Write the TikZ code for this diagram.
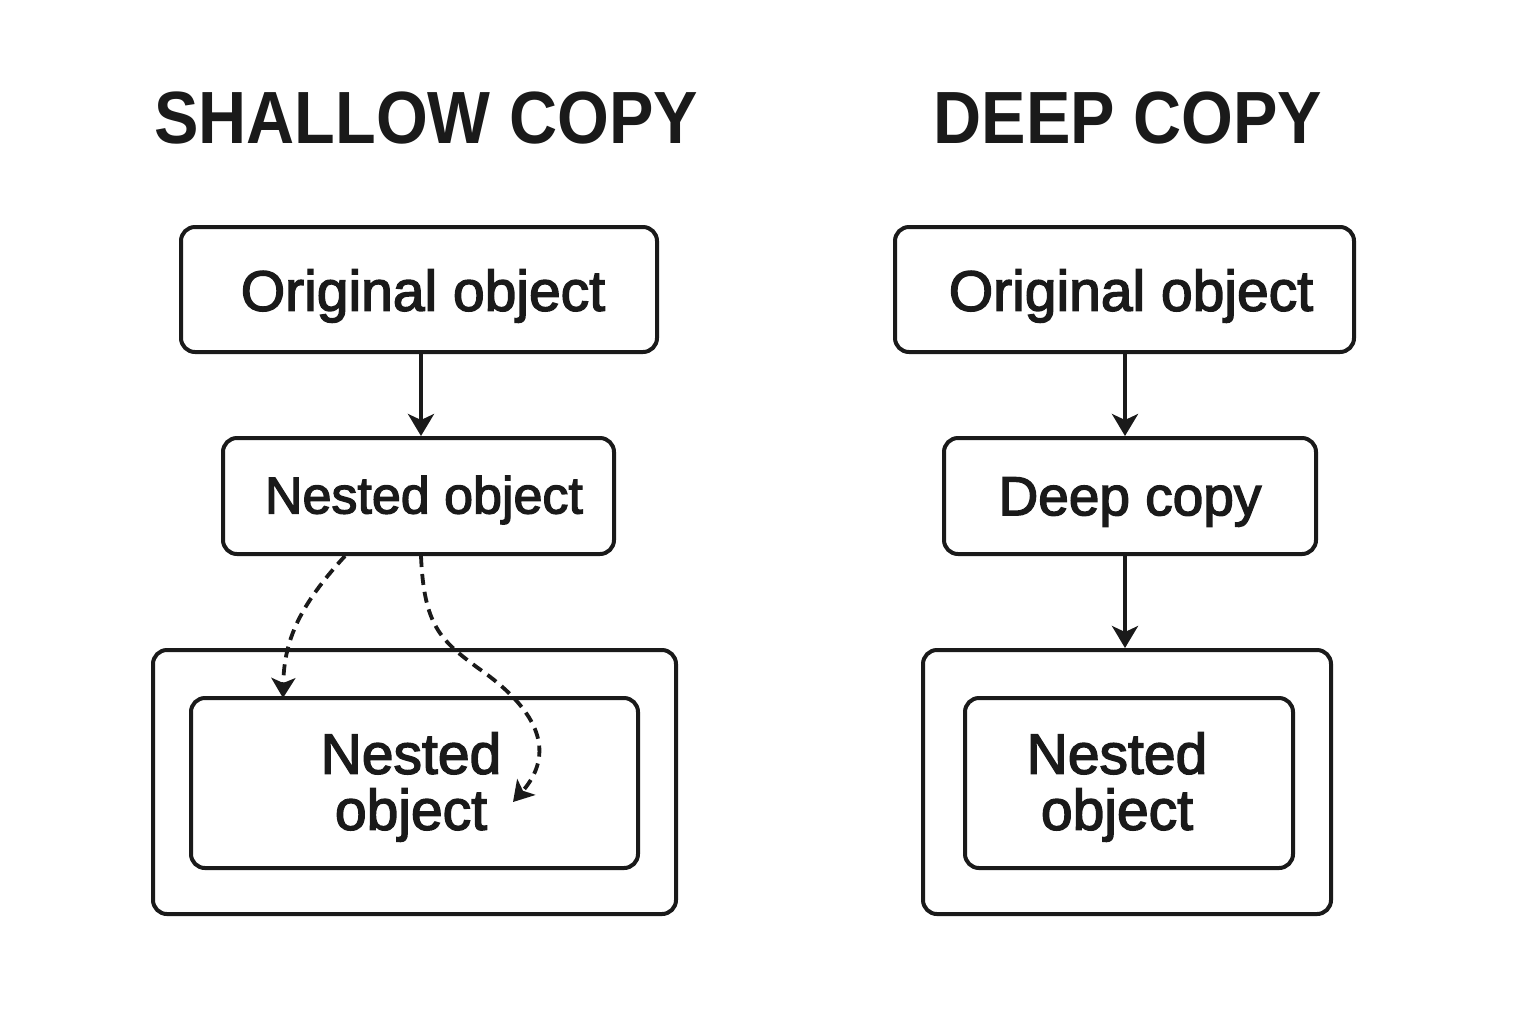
\documentclass[tikz,border=0pt]{standalone}
\usepackage{fontspec}
\usepackage{graphicx}
\setmainfont{Liberation Sans}
\newfontfamily\titlefont{Liberation Sans}[BoldFont=* Bold]
\newfontfamily\bodyfont{Liberation Sans}[FakeBold=2.5]
\usetikzlibrary{arrows.meta}
\definecolor{ink}{HTML}{1A1A1A}
\begin{document}
\begin{tikzpicture}[x=0.5pt,y=-0.5pt,
  box/.style={draw=ink, rounded corners=7pt, line width=2pt, inner sep=0pt, text=ink},
  arr/.style={draw=ink, line width=1.8pt, -{Stealth[length=11pt,width=13pt,inset=3pt]}},
  darr/.style={draw=ink, line width=1.9pt, dash pattern=on 5.5pt off 3.5pt, -{Stealth[length=10pt,width=12pt,inset=2.5pt]}},
  ttl/.style={text=ink, inner sep=0pt, font=\titlefont\bfseries\fontsize{37pt}{40pt}\selectfont},
  big/.style={font=\bodyfont\fontsize{28.5pt}{28pt}\selectfont},
  mid/.style={font=\bodyfont\fontsize{26pt}{28pt}\selectfont}]
\useasboundingbox[fill=white] (0,0) rectangle (1536,1024);
% titles
\node[ttl] (t1) at (426,118) {\scalebox{0.9}[1]{SHALLOW COPY}};
\node[ttl] (t2) at (1128,118) {\scalebox{0.9}[1]{DEEP COPY}};
% shallow side
\node[box, minimum width=238pt, minimum height=62.5pt] (so) at (419,289.5) {};
\node[big, text=ink, inner sep=0pt] (sotxt) at (423,296) {Original object};
\node[box, minimum width=195.5pt, minimum height=58pt] (sn) at (418.5,496) {};
\node[mid, text=ink, inner sep=0pt] (sntxt) at (424,500) {Nested object};
\node[box, minimum width=261.5pt, minimum height=132pt] (souter) at (414.5,782) {};
\node[box, minimum width=223.5pt, minimum height=85pt] (sinner) at (414.5,783) {};
\node[big, text=ink, align=center, inner sep=0pt] (stxt) at (411,787) {Nested\\object};
% deep side
\node[box, minimum width=229.5pt, minimum height=62.5pt] (do) at (1124.5,289.5) {};
\node[big, text=ink, inner sep=0pt] (dotxt) at (1131,296) {Original object};
\node[box, minimum width=186pt, minimum height=58pt] (dc) at (1130,496) {};
\node[text=ink, inner sep=0pt, font=\bodyfont\fontsize{27.5pt}{28pt}\selectfont] (dctxt) at (1130,502) {Deep copy};
\node[box, minimum width=204pt, minimum height=132pt] (douter) at (1127,782) {};
\node[box, minimum width=164pt, minimum height=85pt] (dinner) at (1129,783) {};
\node[big, text=ink, align=center, inner sep=0pt] (dtxt) at (1117,787) {Nested\\object};
% arrows
\coordinate (s1) at (421,352);
\coordinate (d1) at (1125,352);
\coordinate (d2) at (1125,554);
\draw[arr] (s1) -- (s1 |- sn.north);
\draw[arr] (d1) -- (d1 |- dc.north);
\draw[arr] (d2) -- (d2 |- douter.north);
% dashed curves
\coordinate (c1s) at (345,556);
\coordinate (c1e) at (283,698);
\coordinate (c2s) at (421,556);
\coordinate (c2m) at (478,668);
\coordinate (c2e) at (513,802);
\draw[darr] (c1s) .. controls (300,605) and (284,640) .. (c1e);
\draw[darr] (c2s) .. controls (424,625) and (440,640) .. (c2m) .. controls (550,718) and (550,760) .. (c2e);
\end{tikzpicture}
\end{document}
